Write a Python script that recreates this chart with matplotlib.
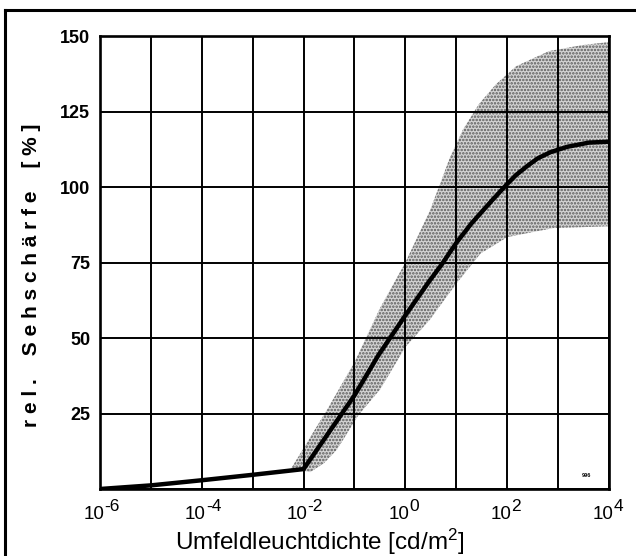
import numpy as np
import matplotlib
matplotlib.use('Agg')
import matplotlib.pyplot as plt
from matplotlib.lines import Line2D
from matplotlib.ticker import FixedLocator, NullFormatter, FuncFormatter

plt.rcParams['font.family'] = ['Liberation Sans', 'DejaVu Sans']
plt.rcParams['mathtext.default'] = 'regular'
plt.rcParams['hatch.linewidth'] = 1.2

# mean curve, rel. visual acuity vs surround luminance
curve_L = [1e-6, 1e-5, 1e-4, 1e-3, 1e-2, 0.1, 0.3, 0.5, 1, 3, 5, 10, 20, 50,
           100, 150, 250, 400, 700, 1500, 4000, 10000]
curve_val = [0, 1.2, 2.9, 4.7, 6.6, 31, 44.5, 50, 57.5, 69, 74, 81.5, 88, 95.5,
             101, 104, 107, 109.5, 111.5, 113.3, 114.7, 115]

# scatter band (upper and lower edge)
upper_L = [0.0056, 0.01, 0.032, 0.1, 0.32, 1, 3, 4.8, 7.6, 13.5, 28, 60, 150,
           660, 3000, 10000]
upper_val = [6.6, 13.5, 27.5, 42, 60, 75, 92, 101, 110, 119, 127.5, 134, 140,
             145, 147, 148]
lower_L = [0.0056, 0.0135, 0.025, 0.045, 0.12, 0.32, 1, 3, 10, 30, 100, 300,
           800, 10000]
lower_val = [6.6, 5.6, 8.5, 13, 24.5, 33, 47, 56, 68, 78, 83.4, 85, 86.4, 87]

x_decades = [1e-6, 1e-5, 1e-4, 1e-3, 1e-2, 1e-1, 1e0, 1e1, 1e2, 1e3, 1e4]
x_labeled = [-6, -4, -2, 0, 2, 4]
y_ticks = [0, 25, 50, 75, 100, 125, 150]

fig = plt.figure(figsize=(6.36, 5.56), dpi=100)
ax = fig.add_axes([0.1572, 0.1205, 0.8003, 0.8147])

# band as one polygon
band_x = list(upper_L) + list(lower_L[::-1])
band_y = list(upper_val) + list(lower_val[::-1])
ax.fill(band_x, band_y, facecolor='#d4d4d4', edgecolor='#5a5a5a',
        hatch='.....', linewidth=0, zorder=1)

ax.plot(curve_L, curve_val, color='black', linewidth=3.2,
        solid_capstyle='round', solid_joinstyle='round', zorder=3)

ax.set_xscale('log')
ax.set_xlim(1e-6, 1e4)
ax.set_ylim(0, 150)

ax.xaxis.set_major_locator(FixedLocator(x_decades))
ax.xaxis.set_minor_locator(FixedLocator([]))
ax.xaxis.set_major_formatter(NullFormatter())
ax.yaxis.set_major_locator(FixedLocator(y_ticks))
ax.yaxis.set_major_formatter(FuncFormatter(lambda v, p: '' if v == 0 else '%d' % v))

# x tick labels: "10" plus a big exponent, like the original print
for e in x_labeled:
    ax.annotate('10', xy=(10.0 ** e, 0), xycoords=('data', 'axes fraction'),
                xytext=(3, -12), textcoords='offset points',
                ha='right', va='top', fontsize=13.5)
    ax.annotate('%d' % e, xy=(10.0 ** e, 0), xycoords=('data', 'axes fraction'),
                xytext=(3, -7), textcoords='offset points',
                ha='left', va='top', fontsize=12.5)

ax.set_axisbelow(False)
ax.grid(True, color='black', linewidth=1.4, zorder=2)
for s in ax.spines.values():
    s.set_linewidth(1.9)
    s.set_zorder(4)

ax.tick_params(length=0, labelsize=13, pad=7)
for lab in ax.get_yticklabels():
    lab.set_fontweight('bold')

ax.set_ylabel('r e l .    S e h s c h ä r f e    [ % ]', fontsize=15,
              fontweight='bold', va='center')
ax.yaxis.set_label_coords(-0.134, 0.471)
ax.set_xlabel('Umfeldleuchtdichte [cd/m$^{2}$]', fontsize=17.5, va='top')
ax.xaxis.set_label_coords(0.432, -0.083)

ax.text(0.965, 0.025, '996', transform=ax.transAxes, fontsize=4,
        ha='right', va='bottom', fontweight='bold')

# outer frame (top and left edge of the scanned figure)
fig.add_artist(Line2D([0.0079, 1.0], [0.982, 0.982], transform=fig.transFigure,
                      color='black', linewidth=2.2))
fig.add_artist(Line2D([0.0079, 0.0079], [0.0, 0.982], transform=fig.transFigure,
                      color='black', linewidth=2.2))

fig.savefig('out.png', dpi=100)
